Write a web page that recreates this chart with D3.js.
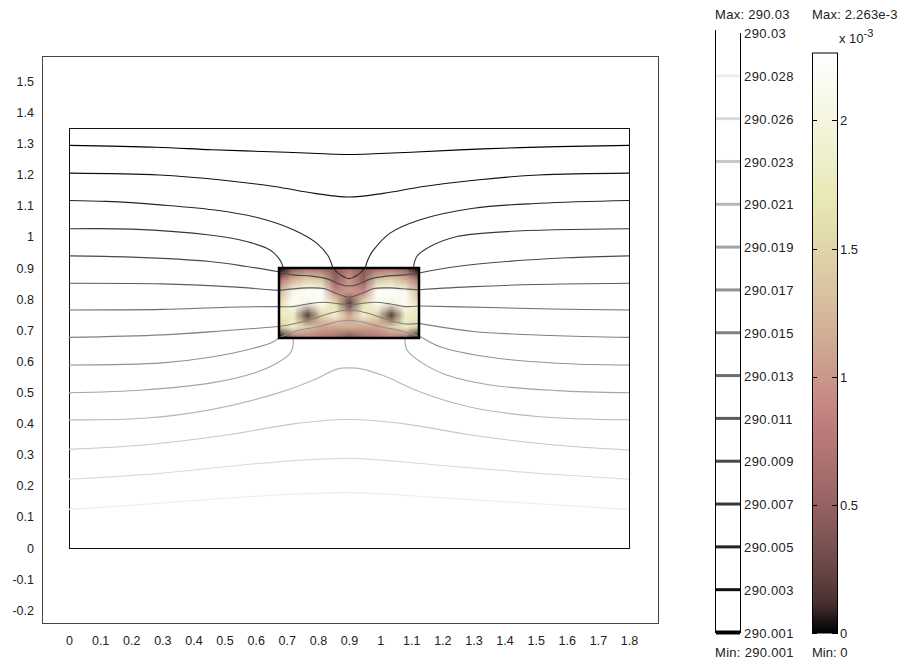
<!DOCTYPE html>
<html>
<head>
<meta charset="utf-8">
<script src="https://cdn.jsdelivr.net/npm/d3@7"></script>
<style>
  body { margin: 0; background: #fff; }
  svg { display: block; font-family: "Liberation Sans", Arial, sans-serif; }
</style>
</head>
<body>
<div id="chart"></div>
<script>
// ---- data ----
const xTicks = [0, 0.1, 0.2, 0.3, 0.4, 0.5, 0.6, 0.7, 0.8, 0.9, 1, 1.1, 1.2, 1.3, 1.4, 1.5, 1.6, 1.7, 1.8];
const yTicks = [-0.2, -0.1, 0, 0.1, 0.2, 0.3, 0.4, 0.5, 0.6, 0.7, 0.8, 0.9, 1, 1.1, 1.2, 1.3, 1.4, 1.5];

// contour levels (temperature), lowest first
const levelLabels = ["290.001", "290.003", "290.005", "290.007", "290.009", "290.011", "290.013",
  "290.015", "290.017", "290.019", "290.021", "290.023", "290.026", "290.028", "290.03"];

// domain and heater (x, y in model units)
const domainBox = [0, 0, 1.8, 1.35];
const heaterBox = [0.675, 0.675, 1.125, 0.9];

// contour segments per level index
const contourSegments = [
  [[[0,1.294],[0.28,1.288],[0.46,1.280],[0.70,1.272],[0.82,1.267],[0.9,1.265],[0.98,1.267],[1.1,1.272],[1.33,1.283],[1.57,1.290],[1.8,1.294]]],
  [[[0,1.205],[0.29,1.199],[0.49,1.183],[0.66,1.162],[0.79,1.14],[0.9,1.128],[1.01,1.14],[1.14,1.162],[1.31,1.183],[1.51,1.199],[1.8,1.205]]],
  [[[0,1.117],[0.12,1.114],[0.292,1.103],[0.463,1.087],[0.614,1.060],[0.721,1.023],[0.796,0.980],[0.834,0.937],[0.848,0.9]],
   [[0.848,0.9],[0.872,0.878],[0.9,0.866],[0.928,0.878],[0.952,0.9]],
   [[0.952,0.9],[0.962,0.93],[0.979,0.958],[1.032,1.012],[1.129,1.055],[1.300,1.092],[1.514,1.108],[1.8,1.117]]],
  [[[0,1.026],[0.2,1.025],[0.453,1.006],[0.571,0.985],[0.646,0.958],[0.678,0.926],[0.689,0.9]],
   [[1.107,0.9],[1.118,0.937],[1.161,0.969],[1.247,1.001],[1.407,1.017],[1.8,1.026]]],
  [[[0,0.939],[0.2,0.935],[0.453,0.921],[0.571,0.905],[0.675,0.888]],
   [[0.675,0.888],[0.72,0.878],[0.78,0.874],[0.83,0.865],[0.87,0.848],[0.9,0.842],[0.93,0.848],[0.97,0.865],[1.02,0.874],[1.08,0.878],[1.125,0.884]],
   [[1.125,0.884],[1.247,0.905],[1.407,0.921],[1.6,0.933],[1.8,0.939]]],
  [[[0,0.851],[0.3,0.849],[0.508,0.840],[0.675,0.828]],
   [[0.675,0.828],[0.71,0.832],[0.77,0.836],[0.82,0.834],[0.86,0.818],[0.9,0.806],[0.94,0.818],[0.98,0.834],[1.03,0.836],[1.09,0.832],[1.125,0.83]],
   [[1.125,0.83],[1.3,0.840],[1.5,0.847],[1.8,0.851]]],
  [[[0,0.765],[0.3,0.767],[0.508,0.774],[0.675,0.776]],
   [[0.675,0.776],[0.72,0.776],[0.77,0.785],[0.82,0.79],[0.86,0.786],[0.9,0.782],[0.94,0.786],[0.98,0.79],[1.03,0.785],[1.08,0.776],[1.125,0.778]],
   [[1.125,0.778],[1.354,0.773],[1.55,0.768],[1.8,0.765]]],
  [[[0,0.677],[0.3,0.685],[0.508,0.699],[0.675,0.712]],
   [[0.675,0.712],[0.72,0.72],[0.78,0.735],[0.83,0.752],[0.87,0.762],[0.9,0.765],[0.93,0.762],[0.97,0.752],[1.02,0.735],[1.08,0.72],[1.125,0.722]],
   [[1.125,0.722],[1.3,0.696],[1.55,0.683],[1.8,0.677]]],
  [[[0,0.588],[0.3,0.595],[0.453,0.613],[0.593,0.642],[0.657,0.663],[0.678,0.677]],
   [[0.678,0.677],[0.74,0.7],[0.8,0.711],[0.86,0.727],[0.9,0.732],[0.94,0.727],[1.0,0.711],[1.06,0.7],[1.125,0.68]],
   [[1.129,0.680],[1.193,0.647],[1.354,0.613],[1.568,0.594],[1.8,0.588]]],
  [[[0,0.499],[0.239,0.508],[0.453,0.530],[0.593,0.562],[0.668,0.594],[0.711,0.626],[0.721,0.658],[0.719,0.675]],
   [[1.080,0.675],[1.086,0.637],[1.129,0.599],[1.214,0.556],[1.354,0.524],[1.568,0.506],[1.8,0.499]]],
  [[[0,0.412],[0.239,0.417],[0.453,0.444],[0.668,0.497],[0.786,0.540],[0.861,0.575],[0.9,0.579],[0.944,0.575],[1.018,0.551],[1.125,0.503],[1.285,0.454],[1.514,0.422],[1.8,0.412]]],
  [[[0,0.317],[0.239,0.331],[0.507,0.363],[0.721,0.399],[0.9,0.413],[1.079,0.399],[1.293,0.363],[1.561,0.331],[1.8,0.315]]],
  [[[0,0.221],[0.292,0.240],[0.614,0.272],[0.9,0.288],[1.19,0.266],[1.508,0.240],[1.8,0.221]]],
  [[[0,0.124],[0.292,0.144],[0.614,0.167],[0.9,0.178],[1.19,0.162],[1.508,0.142],[1.8,0.124]]]
];

// surface values inside the heater (x1e-3), rows top to bottom
const surfX = [0.675, 0.72, 0.765, 0.81, 0.855, 0.9, 0.945, 0.99, 1.035, 1.08, 1.125];
const surfY = [0.9, 0.8625, 0.825, 0.7875, 0.75, 0.7125, 0.675];
const surfVals = [
  [0.0, 0.5, 0.7, 0.6, 0.4, 0.7, 0.4, 0.6, 0.7, 0.5, 0.0],
  [0.7, 1.2, 1.5, 1.4, 0.5, 1.0, 0.5, 1.4, 1.5, 1.2, 0.7],
  [1.2, 2.1, 2.26, 2.2, 0.9, 1.0, 0.9, 2.2, 2.26, 2.1, 1.2],
  [1.6, 2.2, 2.0, 2.2, 1.6, 0.2, 1.6, 2.2, 2.0, 2.2, 1.6],
  [1.8, 1.8, 0.2, 1.5, 1.9, 1.1, 1.9, 1.5, 0.2, 1.8, 1.8],
  [1.4, 1.8, 1.4, 1.1, 1.1, 1.2, 1.1, 1.1, 1.4, 1.8, 1.4],
  [0.0, 0.6, 0.8, 0.7, 0.6, 0.3, 0.6, 0.7, 0.8, 0.6, 0.0]
];
const colorTicks = [0, 0.5, 1, 1.5, 2];
const colorMax = 2.263;

// ---- drawing ----
const W = 902, H = 659;
const svg = d3.select("#chart").append("svg").attr("width", W).attr("height", H);

var x = d3.scaleLinear().domain([0, 1.8]).range([69, 629]);
var y = d3.scaleLinear().domain([0, 1.35]).range([548, 128]);

var fmt = function(v) { return String(+v.toFixed(1)); };

// MATLAB-like "pink" colormap
function pink(t) {
  t = Math.max(0, Math.min(1, t));
  var hr = Math.min(1, t / 0.375),
      hg = Math.max(0, Math.min(1, (t - 0.375) / 0.375)),
      hb = Math.max(0, Math.min(1, (t - 0.75) / 0.25));
  return d3.rgb(255 * Math.sqrt((2 * t + hr) / 3),
                255 * Math.sqrt((2 * t + hg) / 3),
                255 * Math.sqrt((2 * t + hb) / 3));
}
var levelGray = d3.scaleLinear().domain([0, levelLabels.length - 1]).range(["#000", "#fff"]);

// outer frame
svg.append("rect")
  .attr("x", 42.5).attr("y", 56.5).attr("width", 616).attr("height", 567)
  .style("fill", "none").style("stroke", "#444").style("stroke-width", 1);

// axes (labels only)
var gx = svg.append("g").attr("transform", "translate(0,623)")
  .call(d3.axisBottom(x).tickValues(xTicks).tickSize(0).tickPadding(13).tickFormat(fmt));
var gy = svg.append("g").attr("transform", "translate(42,0)")
  .call(d3.axisLeft(y).tickValues(yTicks).tickSize(0).tickPadding(8).tickFormat(fmt));
[gx, gy].forEach(function(g) {
  g.select(".domain").remove();
  g.selectAll("text").style("font-size", "12.5px").style("fill", "#222")
    .style("font-family", "'Liberation Sans', Arial, sans-serif");
});

// geometry boundary
svg.append("rect")
  .attr("x", x(domainBox[0]) + 0.5).attr("y", y(domainBox[3]) + 0.5)
  .attr("width", x(domainBox[2]) - x(domainBox[0])).attr("height", y(domainBox[1]) - y(domainBox[3]))
  .style("fill", "none").style("stroke", "#111").style("stroke-width", 1);

// surface inside heater
var cols = surfX.length, rows = surfY.length;
var cv = document.createElement("canvas");
cv.width = cols; cv.height = rows;
var ctx = cv.getContext("2d");
surfVals.forEach(function(row, j) {
  row.forEach(function(v, i) {
    ctx.fillStyle = pink(v / colorMax).toString();
    ctx.fillRect(i, j, 1, 1);
  });
});
var cw = (x(surfX[cols - 1]) - x(surfX[0])) / (cols - 1);
var ch = (y(surfY[rows - 1]) - y(surfY[0])) / (rows - 1);

var defs = svg.append("defs");
defs.append("clipPath").attr("id", "heaterClip").append("rect")
  .attr("x", x(heaterBox[0])).attr("y", y(heaterBox[3]))
  .attr("width", x(heaterBox[2]) - x(heaterBox[0]))
  .attr("height", y(heaterBox[1]) - y(heaterBox[3]));

svg.append("image")
  .attr("href", cv.toDataURL())
  .attr("x", x(surfX[0]) - cw / 2).attr("y", y(surfY[0]) - ch / 2)
  .attr("width", cw * cols).attr("height", ch * rows)
  .attr("preserveAspectRatio", "none")
  .attr("clip-path", "url(#heaterClip)");

// contour lines
var line = d3.line().x(d => x(d[0])).y(d => y(d[1])).curve(d3.curveCatmullRom.alpha(0.5));
contourSegments.forEach(function(segs, lvl) {
  segs.forEach(function(s) {
    svg.append("path")
      .attr("d", line(s))
      .style("fill", "none")
      .style("stroke", levelGray(lvl))
      .style("stroke-width", 1.1);
  });
});

// heater border
svg.append("rect")
  .attr("x", x(heaterBox[0])).attr("y", y(heaterBox[3]))
  .attr("width", x(heaterBox[2]) - x(heaterBox[0]))
  .attr("height", y(heaterBox[1]) - y(heaterBox[3]))
  .style("fill", "none").style("stroke", "#000").style("stroke-width", 2.5);

// ---- contour legend ----
var yLeg = d3.scaleLinear().domain([0, levelLabels.length - 1]).range([632.5, 33]);

svg.append("line").attr("x1", 715.5).attr("x2", 715.5).attr("y1", 30).attr("y2", 633)
  .style("stroke", "#000");
svg.append("line").attr("x1", 740.5).attr("x2", 740.5).attr("y1", 33).attr("y2", 633)
  .style("stroke", "#000");

levelLabels.forEach(function(lab, i) {
  svg.append("line")
    .attr("x1", 716).attr("x2", 740)
    .attr("y1", yLeg(i)).attr("y2", yLeg(i))
    .style("stroke", levelGray(i))
    .style("stroke-width", i === 0 ? 4 : 3);
  svg.append("text")
    .attr("x", 744).attr("y", yLeg(i)).attr("dy", "0.4em")
    .text(lab)
    .style("font-size", "13px").style("fill", "#222")
    .style("letter-spacing", "0.4px");
});

svg.append("text").attr("x", 715).attr("y", 19).text("Max: 290.03")
  .style("font-size", "13px").style("fill", "#222").style("letter-spacing", "0.3px");
svg.append("text").attr("x", 715).attr("y", 657).text("Min: 290.001")
  .style("font-size", "13px").style("fill", "#222").style("letter-spacing", "0.3px");

// ---- color legend ----
var cScale = d3.scaleLinear().domain([0, colorMax]).range([633, 53]);
var grad = defs.append("linearGradient").attr("id", "pinkGrad")
  .attr("x1", 0).attr("y1", 1).attr("x2", 0).attr("y2", 0);
d3.range(0, 1.0001, 0.05).forEach(function(t) {
  grad.append("stop").attr("offset", t).style("stop-color", pink(t).toString());
});

svg.append("rect")
  .attr("x", 812.5).attr("y", cScale(colorMax))
  .attr("width", 25).attr("height", cScale(0) - cScale(colorMax))
  .style("fill", "url(#pinkGrad)").style("stroke", "#000").style("stroke-width", 1);

colorTicks.forEach(function(v) {
  var ty = Math.round(cScale(v)) + 0.5;
  svg.append("line").attr("x1", 812).attr("x2", 817).attr("y1", ty).attr("y2", ty).style("stroke", "#000");
  svg.append("line").attr("x1", 832).attr("x2", 838).attr("y1", ty).attr("y2", ty).style("stroke", "#000");
  svg.append("text").attr("x", 840).attr("y", ty).attr("dy", "0.38em").text(fmt(v))
    .style("font-size", "13px").style("fill", "#222");
});

svg.append("text").attr("x", 812).attr("y", 19).text("Max: 2.263e-3")
  .style("font-size", "13px").style("fill", "#222").style("letter-spacing", "0.2px");
svg.append("text").attr("x", 812).attr("y", 657).text("Min: 0")
  .style("font-size", "13px").style("fill", "#222");
var mult = svg.append("text").attr("x", 839).attr("y", 43)
  .style("font-size", "13px").style("fill", "#222");
mult.append("tspan").text("x 10");
mult.append("tspan").attr("dy", -6).style("font-size", "11px").text("-3");
</script>
</body>
</html>
